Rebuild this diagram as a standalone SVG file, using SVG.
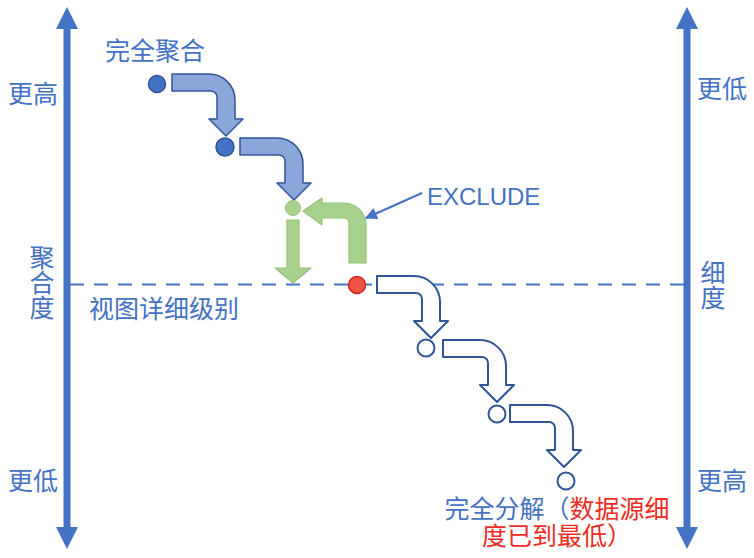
<svg xmlns="http://www.w3.org/2000/svg" width="754" height="558" viewBox="0 0 754 558">
<style>
.t{font-family:"Noto Sans CJK SC","Liberation Sans",sans-serif;font-size:25px;fill:#4472C4;text-anchor:middle}
.b{font-family:"Liberation Sans","Noto Sans CJK SC",sans-serif;font-size:25px;fill:#4472C4;text-anchor:middle}
.v{font-family:"Noto Sans CJK SC","Liberation Sans",sans-serif;font-size:25px;fill:#4472C4;writing-mode:vertical-rl;text-anchor:start}
.r{fill:#EE2C1F}
.axis{stroke:#4472C4;stroke-width:7;fill:none}
.ah{fill:#4472C4}
.fa{fill:#8AA6DA;stroke:#2F5597;stroke-width:1.5;stroke-linejoin:round}
.oa{fill:#FFFFFF;stroke:#2F5597;stroke-width:2;stroke-linejoin:round}
.ga{fill:#A9D18E;stroke:#94C176;stroke-width:1.2;stroke-linejoin:round}
.bd{fill:#4472C4;stroke:#2F5597;stroke-width:1.5}
.od{fill:#FFFFFF;stroke:#2F5597;stroke-width:2}
</style>
<defs>
<path id="bent" d="M172,74 H209 A26,26 0 0 1 235,100 V119 H243 L226,136 L209,119 H217 V97 A6,6 0 0 0 211,91 H172 Z"/>
<marker id="ptr" viewBox="0 0 10 10" refX="9" refY="5" markerWidth="13" markerHeight="12" markerUnits="userSpaceOnUse" orient="auto">
<path d="M0,0 L10,5 L0,10 Z" fill="#4472C4"/>
</marker>
</defs>
<rect width="754" height="558" fill="#FFFFFF"/>

<g id="axis-left">
<line class="axis" x1="67" y1="26" x2="67" y2="530"/>
<polygon class="ah" points="67,7 56,29 78,29"/>
<polygon class="ah" points="67,549 56,527 78,527"/>
<text class="t" x="33" y="103">更高</text>
<text class="v" x="42" y="245">聚合度</text>
<text class="t" x="33" y="490">更低</text>
</g>

<g id="axis-right">
<line class="axis" x1="687" y1="26" x2="687" y2="530"/>
<polygon class="ah" points="687,7 676,29 698,29"/>
<polygon class="ah" points="687,549 676,527 698,527"/>
<text class="t" x="722" y="98">更低</text>
<text class="v" x="713" y="260">细度</text>
<text class="t" x="722" y="490">更高</text>
</g>

<g id="view-lod">
<line x1="70" y1="284.5" x2="684" y2="284.5" stroke="#4472C4" stroke-width="2" stroke-dasharray="14 10"/>
<text class="t" x="164" y="318">视图详细级别</text>
</g>

<g id="connectors">
<use href="#bent" class="fa"/>
<use href="#bent" class="fa" transform="translate(68,64)"/>
<use href="#bent" class="oa" transform="translate(205,202)"/>
<use href="#bent" class="oa" transform="translate(271,266)"/>
<use href="#bent" class="oa" transform="translate(338,331)"/>
<path class="ga" d="M287,220 H299 V268 H311 L293,283 L275,268 H287 Z"/>
<path class="ga" d="M303,211 L322,198 V203 H344 A22,22 0 0 1 366,225 V263 H349 V223 A5,5 0 0 0 344,218 H322 V225 Z"/>
<line x1="422" y1="193" x2="366" y2="218" stroke="#4472C4" stroke-width="2" marker-end="url(#ptr)"/>
</g>

<g id="full-agg">
<text class="t" x="155" y="60">完全聚合</text>
<circle class="bd" cx="157" cy="84" r="8.5"/>
</g>
<g id="step2"><circle class="bd" cx="225" cy="147" r="9"/></g>
<g id="green-node"><circle cx="293" cy="208" r="7.5" fill="#A9D18E" stroke="#94C176" stroke-width="1"/></g>
<g id="exclude"><text x="427" y="205" font-family="Liberation Sans, Arial, sans-serif" font-size="24" fill="#4472C4">EXCLUDE</text></g>
<g id="red-node"><circle cx="357" cy="285" r="8.5" fill="#EE5346" stroke="#D0261C" stroke-width="1.5"/></g>
<g id="step4"><circle class="od" cx="426" cy="348" r="8.5"/></g>
<g id="step5"><circle class="od" cx="497" cy="414" r="8.5"/></g>
<g id="full-disagg">
<circle class="od" cx="566" cy="481" r="8.5"/>
<text class="b" x="557" y="518">完全分解（<tspan class="r">数据源细</tspan><tspan class="r" x="557" dy="27">度已到最低）</tspan></text>
</g>
</svg>
